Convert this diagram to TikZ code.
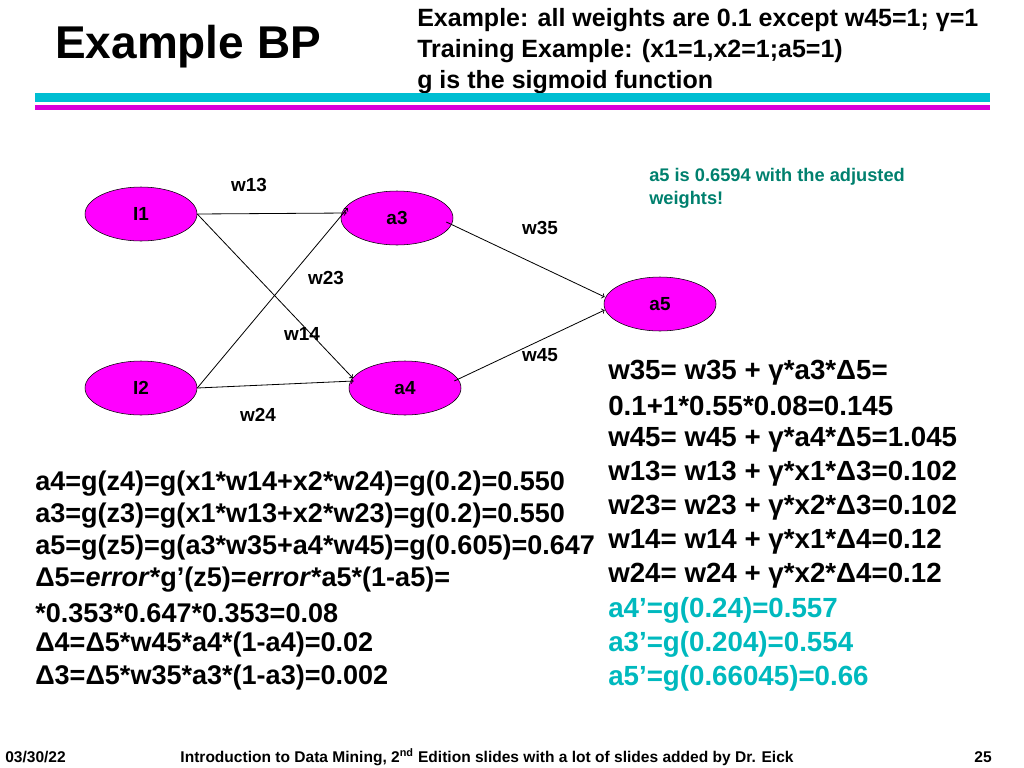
\documentclass[tikz,border=0pt]{standalone}
\usepackage{fontspec}
\setmainfont{Liberation Sans}
\usetikzlibrary{shapes,arrows,positioning,calc}
\definecolor{nodemag}{RGB}{255,0,255}
\definecolor{barcyan}{RGB}{0,190,210}
\definecolor{tealtext}{RGB}{0,128,110}
\definecolor{cyantext}{RGB}{0,185,190}
\tikzset{
  neuron/.style={ellipse,draw,fill=nodemag,minimum width=112*0.026cm,minimum height=54*0.026cm,font=\fontsize{14}{16}\selectfont\bfseries},
  wlabel/.style={font=\fontsize{14}{16}\selectfont\bfseries},
  edge/.style={->,>=to,semithick},
  headline/.style={anchor=west,font=\fontsize{18.5}{21}\selectfont\bfseries,inner sep=0pt},
  leftline/.style={anchor=west,font=\fontsize{20}{23}\selectfont\bfseries,inner sep=0pt},
  rightline/.style={anchor=west,font=\fontsize{20.5}{23}\selectfont\bfseries,inner sep=0pt}
}
\begin{document}
\begin{tikzpicture}[x=0.026cm,y=-0.026cm]
    \useasboundingbox (0,0) rectangle (1024,768);
    % Header
    \node[anchor=west,font=\fontsize{34}{38}\selectfont\bfseries,inner sep=0pt] (title) at (55,47) {Example BP};
    \node[headline] (hd1) at (417,20) {Example: all weights are 0.1 except w45=1; γ=1};
    \node[headline] (hd2) at (417,51) {Training Example: (x1=1,x2=1;a5=1)};
    \node[headline] (hd3) at (417,82) {g is the sigmoid function};
    \fill[barcyan] (35,93) rectangle (990,102);
    \fill[nodemag!85!black] (35,105) rectangle (990,110);

    % Network
    \node[neuron] (i1) at (141,214) {I1};
    \node[neuron] (i2) at (141,388) {I2};
    \node[neuron] (a3) at (397,218) {a3};
    \node[neuron] (a4) at (405,388) {a4};
    \node[neuron] (a5) at (660,304) {a5};

    \draw[edge] (i1.east) -- ($(a3.west)+(6,-5)$);
    \draw[edge] (i1.east) -- ($(a4.west)+(4,-10)$);
    \draw[edge] (i2.east) -- ($(a3.west)+(7,-10)$);
    \draw[edge] (i2.east) -- ($(a4.west)+(5,-7)$);
    \draw[edge] ($(a3.east)+(-7,4)$) -- ($(a5.west)+(1,-7)$);
    \draw[edge] ($(a4.east)+(-7,-7)$) -- ($(a5.west)+(1,6)$);

    \node[wlabel] (l13) at (249,185) {w13};
    \node[wlabel] (l23) at (326,278) {w23};
    \node[wlabel] (l14) at (302,334) {w14};
    \node[wlabel] (l24) at (258,415) {w24};
    \node[wlabel] (l35) at (540,228) {w35};
    \node[wlabel] (l45) at (540,355) {w45};

    \node[anchor=west,align=left,text=tealtext,font=\fontsize{13.5}{17}\selectfont\bfseries,inner sep=0pt] (note) at (649,188) {a5 is 0.6594 with the adjusted\\weights!};

    % Forward / backward pass
    \node[leftline] (f1) at (35,484) {a4=g(z4)=g(x1*w14+x2*w24)=g(0.2)=0.550};
    \node[leftline] (f2) at (35,516) {a3=g(z3)=g(x1*w13+x2*w23)=g(0.2)=0.550};
    \node[leftline] (f3) at (35,548) {a5=g(z5)=g(a3*w35+a4*w45)=g(0.605)=0.647};
    \node[leftline] (f4) at (35,580) {Δ5=\textit{error}*g’(z5)=\textit{error}*a5*(1-a5)=};
    \node[leftline] (f5) at (35,613) {*0.353*0.647*0.353=0.08};
    \node[leftline] (f6) at (35,645) {Δ4=Δ5*w45*a4*(1-a4)=0.02};
    \node[leftline] (f7) at (35,678) {Δ3=Δ5*w35*a3*(1-a3)=0.002};

    % Weight updates
    \node[rightline] (u1) at (608,373) {w35= w35 + γ*a3*Δ5=};
    \node[rightline] (u2) at (608,406) {0.1+1*0.55*0.08=0.145};
    \node[rightline] (u3) at (608,440) {w45= w45 + γ*a4*Δ5=1.045};
    \node[rightline] (u4) at (608,474) {w13= w13 + γ*x1*Δ3=0.102};
    \node[rightline] (u5) at (608,508) {w23= w23 + γ*x2*Δ3=0.102};
    \node[rightline] (u6) at (608,542) {w14= w14 + γ*x1*Δ4=0.12};
    \node[rightline] (u7) at (608,576) {w24= w24 + γ*x2*Δ4=0.12};
    \node[rightline,text=cyantext] (u8) at (608,610) {a4’=g(0.24)=0.557};
    \node[rightline,text=cyantext] (u9) at (608,644) {a3’=g(0.204)=0.554};
    \node[rightline,text=cyantext] (u10) at (608,678) {a5’=g(0.66045)=0.66};

    % Footer
    \node[anchor=west,font=\fontsize{11.5}{13}\selectfont\bfseries,inner sep=0pt] (date) at (5,757) {03/30/22};
    \node[font=\fontsize{11.5}{13}\selectfont\bfseries,inner sep=0pt] (foot) at (487,757) {Introduction to Data Mining, 2\textsuperscript{nd} Edition slides with a lot of slides added by Dr. Eick};
    \node[font=\fontsize{11.5}{13}\selectfont\bfseries,inner sep=0pt] (page) at (983,757) {25};
\end{tikzpicture}
\end{document}
